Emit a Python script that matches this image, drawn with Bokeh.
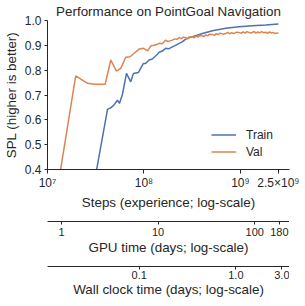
from bokeh.plotting import figure
from bokeh.layouts import column
from bokeh.models import (Range1d, FixedTicker, Legend, LegendItem, NumeralTickFormatter)
from bokeh.embed import file_html
from bokeh.resources import INLINE

# ---- data ----
train_steps = [3.13e7, 4.19e7, 4.53e7, 4.90e7, 5.31e7, 5.57e7, 5.98e7, 6.59e7, 7.30e7,
               7.78e7, 8.77e7, 9.88e7, 1.04e8, 1.13e8, 1.22e8, 1.38e8, 1.44e8, 1.55e8,
               1.68e8, 1.80e8, 1.97e8, 2.10e8, 2.32e8, 2.50e8, 2.71e8, 3.18e8, 4.04e8,
               5.13e8, 7.05e8, 9.70e8, 1.33e9, 1.83e9, 2.48e9]
train_spl = [0.370, 0.642, 0.648, 0.660, 0.679, 0.666, 0.702, 0.787, 0.753,
             0.787, 0.791, 0.827, 0.827, 0.841, 0.845, 0.864, 0.872, 0.877,
             0.888, 0.886, 0.894, 0.899, 0.908, 0.914, 0.925, 0.935, 0.948,
             0.959, 0.969, 0.975, 0.979, 0.982, 0.986]

val_steps = [1.33e7, 1.96e7, 2.60e7, 3.05e7, 3.96e7, 4.53e7, 5.19e7, 5.75e7, 6.48e7,
             7.19e7, 7.91e7, 8.91e7, 9.88e7, 1.09e8, 1.18e8, 1.28e8,
             1.38e8, 1.44e8, 1.55e8, 1.68e8, 1.78e8, 1.86e8, 1.97e8, 2.09e8, 2.19e8,
             2.32e8, 2.45e8, 2.57e8, 2.71e8, 2.82e8, 2.95e8, 3.18e8, 3.31e8, 3.47e8,
             3.63e8, 3.80e8, 4.04e8, 4.17e8, 4.37e8, 4.57e8, 4.79e8, 5.13e8, 5.37e8,
             5.62e8, 5.89e8, 6.17e8, 6.61e8, 7.05e8, 7.41e8, 7.76e8, 8.13e8, 8.51e8,
             9.12e8, 9.70e8, 1.02e9, 1.07e9, 1.12e9, 1.17e9, 1.26e9, 1.33e9, 1.38e9,
             1.45e9, 1.51e9, 1.58e9, 1.66e9, 1.74e9, 1.83e9, 1.91e9, 2.00e9, 2.09e9,
             2.19e9, 2.29e9, 2.40e9, 2.48e9]
val_spl = [0.370, 0.777, 0.747, 0.743, 0.743, 0.841, 0.796, 0.807, 0.852,
           0.854, 0.868, 0.885, 0.888, 0.878, 0.898, 0.900,
           0.904, 0.908, 0.906, 0.921, 0.915, 0.918, 0.921, 0.926, 0.924,
           0.931, 0.927, 0.933, 0.931, 0.926, 0.934, 0.935, 0.930, 0.937,
           0.933, 0.940, 0.939, 0.935, 0.942, 0.938, 0.945, 0.944, 0.940,
           0.947, 0.943, 0.949, 0.945, 0.948, 0.952, 0.946, 0.951, 0.947,
           0.953, 0.952, 0.948, 0.954, 0.949, 0.955, 0.950, 0.952, 0.956,
           0.949, 0.954, 0.950, 0.955, 0.951, 0.953, 0.948, 0.954, 0.949,
           0.952, 0.947, 0.950, 0.948]

series_names = ["Train", "Val"]

step_ticks = [1e7, 1e8, 1e9, 2.5e9]
step_labels = ["10\u2077", "10\u2078", "10\u2079", "2.5\u00d710\u2079"]
spl_ticks = [0.4, 0.5, 0.6, 0.7, 0.8, 0.9, 1.0]
gpu_ticks = [1, 10, 100, 180]
gpu_labels = ["1", "10", "100", "180"]
wall_ticks = [0.1, 1.0, 3.0]
wall_labels = ["0.1", "1.0", "3.0"]

# axis limits
steps_lim = (1e7, 3.23e9)
spl_lim = (0.4, 1.0)
gpu_lim = (0.716, 229.0)
wall_lim = (0.01124, 3.59)

TEXT = "#262626"
FONT = "Liberation Sans"
BLUE = "#4C72B0"
ORANGE = "#DD8452"
LEFT, RIGHT, FW = 37, 10, 242
LABEL_SIZE = "13.4px"


def base_fig(xlim, frame_h, top, bottom, **kw):
    f = figure(frame_width=FW, frame_height=frame_h, x_axis_type="log",
               x_range=Range1d(*xlim), output_backend="svg", toolbar_location=None,
               min_border_left=LEFT, min_border_right=RIGHT, min_border_top=top,
               min_border_bottom=bottom, **kw)
    f.background_fill_color = None
    f.border_fill_color = None
    f.outline_line_color = None
    f.grid.visible = False
    return f


def style_axis(ax, tick_size, label_size, tick_out, lstand, astand):
    ax.axis_line_color = TEXT
    ax.axis_line_width = 1
    ax.major_tick_line_color = TEXT
    ax.major_tick_out = tick_out
    ax.major_tick_in = 0
    ax.minor_tick_line_color = None
    ax.major_label_text_font = FONT
    ax.major_label_text_font_size = tick_size
    ax.major_label_text_color = TEXT
    ax.major_label_standoff = lstand
    ax.axis_label_text_font = FONT
    ax.axis_label_text_font_size = label_size
    ax.axis_label_text_font_style = "normal"
    ax.axis_label_text_color = TEXT
    ax.axis_label_standoff = astand


# ---- main plot ----
p = base_fig(steps_lim, 149, 12, 46, y_range=Range1d(*spl_lim))
p.title.text = "Performance on PointGoal Navigation"
p.title.text_font = FONT
p.title.text_font_size = LABEL_SIZE
p.title.text_font_style = "normal"
p.title.text_color = TEXT
p.title.align = "center"
p.title.standoff = 3

r1 = p.line(train_steps, train_spl, line_color=BLUE, line_width=1.5)
r2 = p.line(val_steps, val_spl, line_color=ORANGE, line_width=1.5)

ya = p.yaxis[0]
ya.ticker = FixedTicker(ticks=spl_ticks)
ya.formatter = NumeralTickFormatter(format="0.0")
ya.axis_label = "SPL (higher is better)"
style_axis(ya, "12px", LABEL_SIZE, 3, 3, 3)

xa = p.xaxis[0]
xa.ticker = FixedTicker(ticks=step_ticks)
xa.major_label_overrides = dict(zip(step_ticks, step_labels))
xa.axis_label = "Steps (experience; log-scale)"
style_axis(xa, "12px", LABEL_SIZE, 4, 2, 2)

legend = Legend(items=[LegendItem(label=series_names[0], renderers=[r1]),
                       LegendItem(label=series_names[1], renderers=[r2])],
                location=(164, 9), orientation="vertical",
                background_fill_alpha=0, border_line_color=None,
                padding=0, margin=0, spacing=0,
                glyph_width=25, glyph_height=17, label_height=17,
                label_standoff=10, label_text_font=FONT,
                label_text_font_size="12px", label_text_color=TEXT)
p.add_layout(legend, "center")

# ---- GPU time axis ----
g = base_fig(gpu_lim, 1, 5, 37, y_axis_location=None, y_range=Range1d(0, 1))
ga = g.xaxis[0]
ga.ticker = FixedTicker(ticks=gpu_ticks)
ga.major_label_overrides = dict(zip(gpu_ticks, gpu_labels))
ga.axis_label = "GPU time (days; log-scale)"
style_axis(ga, "11px", LABEL_SIZE, 3, 3, 1)

# ---- wall clock axis ----
w = base_fig(wall_lim, 1, 7, 32, y_axis_location=None, y_range=Range1d(0, 1))
wa = w.xaxis[0]
wa.ticker = FixedTicker(ticks=wall_ticks)
wa.major_label_overrides = dict(zip(wall_ticks, wall_labels))
wa.axis_label = "Wall clock time (days; log-scale)"
style_axis(wa, "11px", LABEL_SIZE, 3, 1, 0)

layout = column(p, g, w, spacing=0)
open("out.html", "w").write(file_html(layout, INLINE))
